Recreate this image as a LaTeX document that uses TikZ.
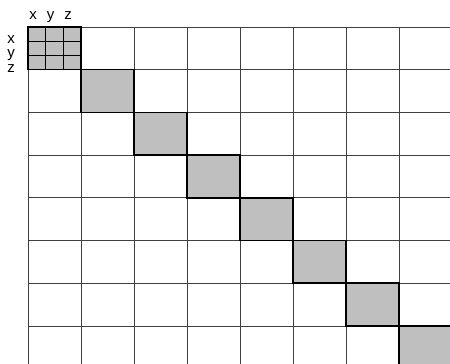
\documentclass[tikz,border=0pt]{standalone}
\usepackage{fontspec}
\setmainfont{Liberation Sans}
\begin{document}
\begin{tikzpicture}[x=1pt,y=-1pt,
  gridline/.style={draw=black!75,line width=0.8pt},
  blockbox/.style={draw=black,fill=black!25,line width=1.5pt},
  subline/.style={draw=black,line width=1.2pt},
  lbl/.style={anchor=base,inner sep=0pt,font=\fontsize{15}{15}\selectfont}]
\useasboundingbox (0,0) rectangle (450,364);
\begin{scope}
\clip (0,0) rectangle (450,364);
\foreach \k in {0,...,7} {
  \draw[gridline] ({28+53*\k},27) -- ({28+53*\k},364);
  \draw[gridline] (28,{27+42.7*\k}) -- (450,{27+42.7*\k});
}
\foreach \k in {0,...,7} {
  \draw[blockbox] ({28+53*\k},{27+42.7*\k}) rectangle ++(53,42.7);
}
\foreach \j in {1,2} {
  \draw[subline] ({28+53*\j/3},27) -- ++(0,42.7);
  \draw[subline] (28,{27+42.7*\j/3}) -- ++(53,0);
}
\end{scope}
\node[lbl] (tx) at (33,19.5) {x};
\node[lbl] (ty) at (50.5,19.5) {y};
\node[lbl] (tz) at (68,19.5) {z};
\node[lbl] (lx) at (11,43.5) {x};
\node[lbl] (ly) at (11,57) {y};
\node[lbl] (lz) at (11,72) {z};
\end{tikzpicture}
\end{document}
